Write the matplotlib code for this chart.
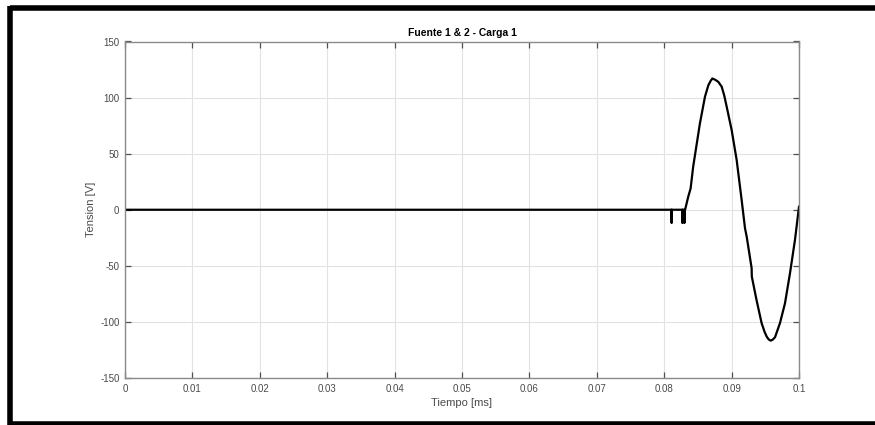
import matplotlib
matplotlib.use("Agg")
import matplotlib.pyplot as plt
from matplotlib.lines import Line2D

# Measured voltage trace (time in ms, voltage in V)
tiempo = [0.0, 0.0811, 0.0811, 0.0811, 0.0827, 0.0827, 0.0827, 0.0830, 0.0830, 0.0830,
          0.0831, 0.08357, 0.08392, 0.0843, 0.0848, 0.0853, 0.08605, 0.08655, 0.08690,
          0.08714, 0.08760, 0.08803, 0.08853, 0.08890, 0.08927, 0.09001, 0.09075,
          0.09149, 0.09199, 0.09224, 0.09297, 0.09300, 0.0937, 0.09445, 0.0949,
          0.0952, 0.0955, 0.0958, 0.0961, 0.09644, 0.09718, 0.09792, 0.09866,
          0.0994, 0.1]
tension = [0.0, 0.0, -11.5, 0.0, 0.0, -11.5, 0.0, 0.0, -11.5, 0.0,
           0.0, 11.7, 19.0, 38.4, 57.7, 77.0, 100.8, 111.0, 115.0,
           117.0, 115.8, 114.0, 109.7, 102.0, 91.9, 71.0, 44.4,
           8.7, -16.5, -24.0, -52.0, -59.6, -80.5, -101.0, -109.0,
           -113.0, -115.6, -116.7, -115.8, -113.7, -101.0, -83.4, -56.7,
           -27.0, 2.7]

x_ticks = [0, 0.01, 0.02, 0.03, 0.04, 0.05, 0.06, 0.07, 0.08, 0.09, 0.1]
x_tick_labels = ["0", "0.01", "0.02", "0.03", "0.04", "0.05", "0.06", "0.07", "0.08", "0.09", "0.1"]
y_ticks = [-150, -100, -50, 0, 50, 100, 150]

plt.rcParams['font.family'] = ['Liberation Sans', 'DejaVu Sans']
plt.rcParams['axes.unicode_minus'] = False

W, H = 875, 425
fig = plt.figure(figsize=(W / 100, H / 100), dpi=100)
fig.patch.set_facecolor("white")

ax = fig.add_axes([125 / W, 1 - 378 / H, (799 - 125) / W, (378 - 41.5) / H])
ax.plot(tiempo, tension, color="black", lw=1.6, solid_joinstyle="round")

ax.set_xlim(0, 0.1)
ax.set_ylim(-150, 150)
ax.set_xticks(x_ticks)
ax.set_xticklabels(x_tick_labels)
ax.set_yticks(y_ticks)

axis_gray = "#8a8a8a"
label_gray = "#4a4a4a"
ax.grid(True, color="#e2e2e2", lw=0.8)
ax.set_axisbelow(True)
for s in ax.spines.values():
    s.set_color(axis_gray)
    s.set_linewidth(1.0)
ax.tick_params(direction="in", length=4, width=0.9, color="#505050",
               top=True, right=True, labelsize=7, labelcolor=label_gray, pad=4)

ax.set_title("Fuente 1 & 2 - Carga 1", fontsize=7.5, fontweight="bold", pad=4)
ax.set_xlabel("Tiempo [ms]", fontsize=8, color=label_gray, labelpad=3)
ax.set_ylabel("Tension [V]", fontsize=8, color=label_gray, labelpad=3)

# Black frame around the figure (top, left and bottom edges)
frame_kw = dict(color="black", lw=4, transform=fig.transFigure, solid_capstyle="butt")
fig.add_artist(Line2D([10 / W, 1.0], [1 - 8 / H, 1 - 8 / H], **frame_kw))
fig.add_artist(Line2D([10 / W, 10 / W], [1 - 6 / H, 1 - 425 / H], **frame_kw))
fig.add_artist(Line2D([8 / W, 1.0], [1 - 423.5 / H, 1 - 423.5 / H], **frame_kw))

fig.savefig("out.png", dpi=100, facecolor="white")
